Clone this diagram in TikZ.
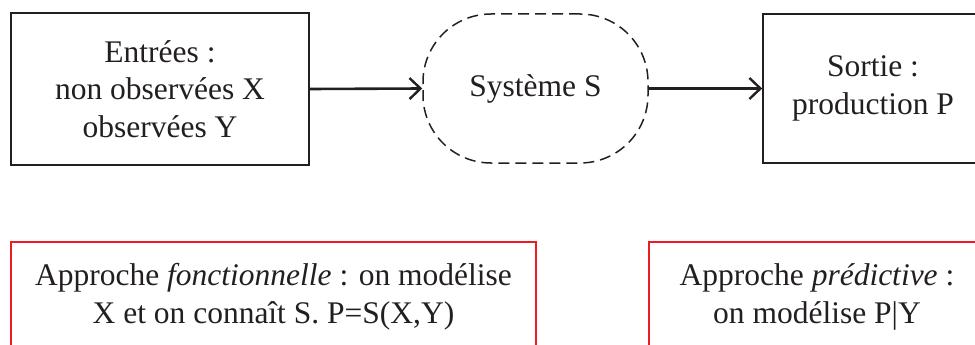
\documentclass[tikz,border=0pt]{standalone}
\usepackage{fontspec}
\setmainfont{Liberation Serif}
\usetikzlibrary{arrows.meta}
\definecolor{boxred}{RGB}{237,28,36}
\definecolor{ink}{RGB}{35,31,32}
\tikzset{
  txt/.style={align=center,font=\fontsize{31.5}{37.5}\selectfont,inner sep=0pt,text=ink},
  blackbox/.style={txt,draw=ink,line width=1.7pt},
  sysbox/.style={txt,draw=ink,line width=1.5pt,dash pattern=on 11pt off 6pt,rounded corners=68pt},
  redbox/.style={txt,draw=boxred,line width=1.8pt},
  arr/.style={draw=ink,line width=2.6pt,-{Straight Barb[length=11pt,width=21pt,line width=2.4pt]}}
}
\begin{document}
\begin{tikzpicture}[x=1pt,y=1pt]
\useasboundingbox (0,0) rectangle (975,-345);
\clip (0,0) rectangle (975,-345);
\node[blackbox,minimum width=298pt,minimum height=152pt] (in) at (160,-89)
  {Entrées :\\non observées X\\observées Y};
\node[sysbox,minimum width=225pt,minimum height=149pt] (sys) at (535.5,-88.5)
  {Système S};
\node[blackbox,minimum width=220pt,minimum height=149pt] (out) at (873,-88.5)
  {Sortie :\\production P};
\node[redbox,minimum width=525pt,minimum height=110pt] (fonc) at (273.5,-297)
  {Approche \textit{fonctionnelle} : on modélise\\X et on connaît S. P=S(X,Y)};
\node[redbox,minimum width=336pt,minimum height=110pt] (pred) at (817,-297)
  {Approche \textit{prédictive} :\\on modélise P|Y};
\draw[arr] (in.east) -- (sys.west);
\draw[arr] (sys.east) -- (out.west);
\end{tikzpicture}
\end{document}
